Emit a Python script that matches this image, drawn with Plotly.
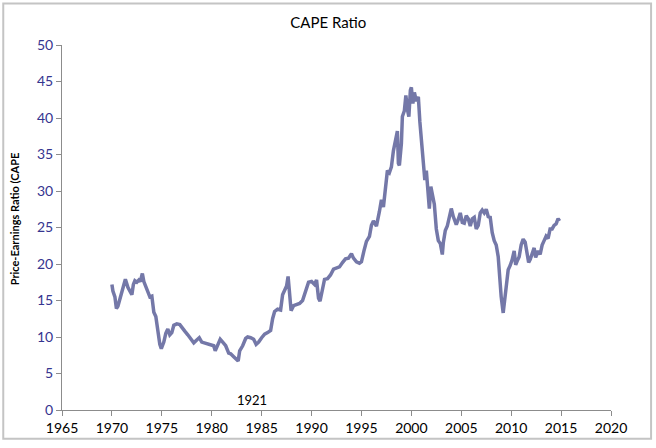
import plotly.graph_objects as go

# CAPE ratio (decimal year, ratio)
years = [
    1970.0, 1970.1, 1970.3, 1970.45, 1970.6, 1970.8, 1971.0, 1971.2, 1971.35, 1971.6,
    1971.8, 1972.0, 1972.15, 1972.3, 1972.5, 1972.7, 1972.85, 1973.05, 1973.2, 1973.4,
    1973.6, 1973.8, 1974.0, 1974.2, 1974.4, 1974.6, 1974.8, 1974.95, 1975.2, 1975.4,
    1975.6, 1975.8, 1976.0, 1976.2, 1976.5, 1976.8, 1977.0, 1977.3, 1977.6, 1977.9,
    1978.2, 1978.5, 1978.75, 1979.0, 1979.3, 1979.6, 1979.9, 1980.2, 1980.35, 1980.6,
    1980.85, 1981.1, 1981.4, 1981.7, 1981.9, 1982.2, 1982.5, 1982.65, 1982.8, 1983.1,
    1983.4, 1983.6, 1983.9, 1984.2, 1984.45, 1984.7, 1985.0, 1985.3, 1985.6, 1985.9,
    1986.1, 1986.3, 1986.6, 1986.9, 1987.1, 1987.3, 1987.5, 1987.65, 1987.8, 1987.95,
    1988.2, 1988.5, 1988.8, 1989.1, 1989.4, 1989.7, 1990.0, 1990.3, 1990.5, 1990.7,
    1990.85, 1991.1, 1991.3, 1991.6, 1991.9, 1992.2, 1992.5, 1992.8, 1993.1, 1993.4,
    1993.7, 1994.0, 1994.2, 1994.5, 1994.8, 1995.0, 1995.25, 1995.5, 1995.8, 1996.0,
    1996.2, 1996.5, 1996.8, 1997.0, 1997.2, 1997.4, 1997.6, 1997.8, 1998.0, 1998.2,
    1998.45, 1998.6, 1998.7, 1998.8, 1999.0, 1999.1, 1999.3, 1999.45, 1999.6, 1999.75,
    1999.9, 2000.0, 2000.15, 2000.3, 2000.5, 2000.7, 2000.85, 2001.0, 2001.2, 2001.35,
    2001.5, 2001.7, 2001.8, 2001.95, 2002.1, 2002.3, 2002.5, 2002.7, 2002.9, 2003.1,
    2003.2, 2003.4, 2003.6, 2003.8, 2004.0, 2004.2, 2004.5, 2004.7, 2004.9, 2005.1,
    2005.3, 2005.5, 2005.7, 2005.9, 2006.1, 2006.3, 2006.5, 2006.7, 2006.9, 2007.1,
    2007.3, 2007.5, 2007.7, 2007.9, 2008.1, 2008.3, 2008.5, 2008.7, 2008.85, 2009.0,
    2009.2, 2009.35, 2009.5, 2009.7, 2009.9, 2010.1, 2010.3, 2010.45, 2010.6, 2010.8,
    2011.0, 2011.2, 2011.4, 2011.6, 2011.75, 2011.9, 2012.1, 2012.3, 2012.45, 2012.7,
    2012.9, 2013.1, 2013.3, 2013.5, 2013.7, 2013.9, 2014.1, 2014.3, 2014.5, 2014.7,
    2014.85,
]
cape = [
    17.2, 16.3, 15.5, 13.9, 14.2, 15.2, 16.3, 17.5, 17.9, 16.8,
    16.4, 15.8, 17.2, 17.7, 17.5, 17.8, 17.6, 18.7, 17.6, 16.9,
    15.9, 15.5, 15.6, 13.4, 12.8, 10.8, 9.0, 8.4, 9.3, 10.5,
    11.1, 10.3, 10.6, 11.6, 11.8, 11.7, 11.4, 10.8, 10.3, 9.8,
    9.2, 9.6, 9.9, 9.3, 9.2, 9.1, 8.9, 8.8, 8.1, 9.0,
    9.7, 9.3, 8.8, 7.8, 7.7, 7.3, 6.9, 6.7, 8.1, 8.8,
    9.8, 10.0, 9.9, 9.7, 9.0, 9.3, 9.9, 10.4, 10.6, 10.9,
    12.5, 13.5, 13.8, 13.7, 15.8, 16.5, 17.0, 18.3, 15.5, 13.6,
    14.3, 14.5, 14.6, 15.0, 16.2, 17.5, 17.6, 17.2, 17.8, 15.3,
    14.9, 16.8, 17.9, 18.0, 18.5, 19.3, 19.4, 19.6, 20.2, 20.7,
    20.8, 21.4, 20.8, 20.3, 20.1, 20.3, 21.8, 23.1, 23.8, 25.3,
    25.9, 25.2, 27.2, 28.8, 27.8, 30.0, 32.8, 32.5, 33.3, 35.5,
    37.5, 38.2, 33.8, 33.5, 36.5, 40.2, 41.0, 43.1, 41.2, 40.2,
    43.8, 44.2, 42.0, 43.5, 42.3, 42.9, 39.5, 37.3, 33.5, 31.5,
    32.8, 28.3, 27.6, 30.6, 29.5, 28.2, 24.8, 23.2, 22.8, 21.3,
    22.9, 24.6, 25.2, 26.3, 27.6, 26.5, 25.4, 26.1, 27.0, 25.7,
    25.6, 26.6, 26.2, 25.2, 26.2, 26.4, 24.8, 25.3, 27.0, 27.4,
    27.0, 27.5, 26.5, 26.4, 24.3, 23.2, 22.6, 21.0, 17.5, 15.5,
    13.3, 15.2, 16.3, 19.2, 19.8, 20.6, 21.8, 19.9, 20.4, 21.0,
    22.6, 23.4, 23.0, 21.2, 20.2, 20.6, 21.5, 22.2, 20.9, 21.8,
    21.3, 22.6, 23.2, 23.8, 23.5, 24.8, 24.8, 25.3, 25.5, 26.2,
    25.9,
]

x_ticks = list(range(1965, 2021, 5))
y_ticks = list(range(0, 51, 5))

fig = go.Figure()
fig.add_trace(go.Scatter(x=years, y=cape, mode="lines",
                         line=dict(color="#7478a8", width=3.5)))

fig.update_layout(
    width=656, height=448,
    margin=dict(l=62, r=45, t=45, b=34),
    paper_bgcolor="white", plot_bgcolor="white",
    showlegend=False,
    font=dict(family="Lato, Open Sans, sans-serif", size=13, color="black"),
    title=dict(text="CAPE Ratio", x=0.485, xref="paper", xanchor="center",
               y=0.95, yanchor="middle",
               font=dict(size=15, color="black")),
)
fig.update_xaxes(range=[1965, 2020], tickvals=x_ticks, showgrid=False, zeroline=False,
                 showline=True, linecolor="#8c8c8c", linewidth=1,
                 ticks="outside", ticklen=5, tickcolor="#8c8c8c",
                 tickfont=dict(color="black", size=14))
fig.update_yaxes(range=[0, 50], tickvals=y_ticks, showgrid=False, zeroline=False,
                 showline=True, linecolor="#8c8c8c", linewidth=1,
                 ticks="outside", ticklen=5, tickcolor="#8c8c8c",
                 tickfont=dict(color="#35358f", size=14))

fig.add_annotation(text="<b>Price-Earnings Ratio (CAPE</b>", xref="paper", yref="paper",
                   x=-0.087, y=0.523, xanchor="center", yanchor="middle",
                   textangle=-90, showarrow=False,
                   font=dict(size=11, color="black"))
fig.add_annotation(text="1921", x=1984.0, y=1.4, showarrow=False,
                   font=dict(size=13, color="black"))

# light grey frame around the whole chart
fig.add_shape(type="rect", xref="paper", yref="paper",
              x0=-0.107, x1=1.073, y0=-0.079, y1=1.114,
              line=dict(color="#c4c4c4", width=2))

fig.write_html("out.html", config={"displayModeBar": False},
               post_script="document.body.style.margin='0';")
